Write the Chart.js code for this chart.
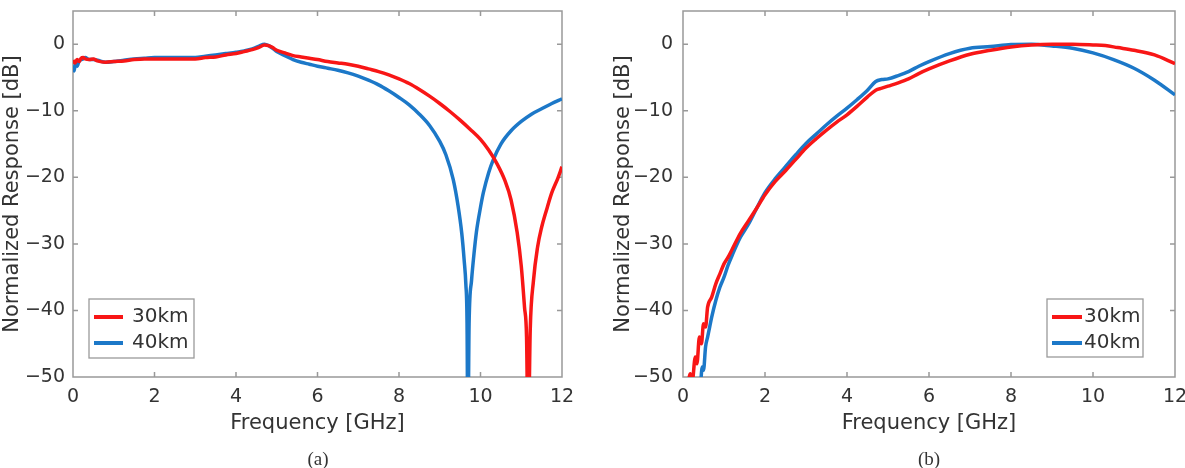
<!DOCTYPE html>
<html><head><meta charset="utf-8">
<script src="https://cdn.jsdelivr.net/npm/chart.js@4.4.1/dist/chart.umd.min.js"></script>
<style>
html,body{margin:0;padding:0;background:#fff;width:1185px;height:468px;overflow:hidden;position:relative}
.panel{position:absolute;top:0;height:468px}
#pa{left:0;width:600px}
#pb{left:590px;width:610px}
.cap{position:absolute;top:448px;font-family:"Liberation Serif","DejaVu Serif",serif;font-size:19px;color:#333;transform:translateX(-50%);line-height:22px}
</style></head><body>
<div class="panel" id="pa"><canvas id="ca" width="600" height="468"></canvas></div>
<div class="panel" id="pb"><canvas id="cb" width="610" height="468"></canvas></div>
<div class="cap" style="left:318px">(a)</div>
<div class="cap" style="left:929px">(b)</div>
<script>
// ---- data ----
const seriesNames = ['30km', '40km'];
const xTickValues = [0, 2, 4, 6, 8, 10, 12];
const yTickValues = [-50, -40, -30, -20, -10, 0];
const yTickLabels = ['\u221250', '\u221240', '\u221230', '\u221220', '\u221210', '0'];
const xTitle = 'Frequency [GHz]';
const yTitle = 'Normalized Response [dB]';

// panel (a)
const freqA30 = [0, 0.05, 0.1, 0.15, 0.2, 0.25, 0.3, 0.4, 0.5, 0.6, 0.8, 1.0, 1.25, 1.5, 1.75, 2.0, 2.25, 2.5, 2.75, 3.0, 3.25, 3.5, 3.75, 4.0, 4.2, 4.4, 4.55, 4.7, 4.8, 4.9, 5.0, 5.2, 5.4, 5.6, 5.8, 6.0, 6.25, 6.5, 6.75, 7.0, 7.25, 7.5, 7.75, 8.0, 8.25, 8.5, 8.75, 9.0, 9.25, 9.5, 9.75, 10.0, 10.2, 10.4, 10.6, 10.75, 10.9, 11.0, 11.08, 11.13, 11.17, 11.22, 11.3, 11.4, 11.5, 11.62, 11.75, 11.9, 12.0];
const respA30 = [-2.4, -2.8, -2.3, -2.6, -2.1, -2.0, -2.2, -2.3, -2.2, -2.5, -2.7, -2.6, -2.5, -2.3, -2.2, -2.2, -2.2, -2.2, -2.2, -2.2, -2.0, -1.9, -1.6, -1.4, -1.1, -0.8, -0.5, -0.1, -0.2, -0.5, -0.9, -1.3, -1.7, -1.9, -2.1, -2.3, -2.6, -2.8, -3.0, -3.3, -3.7, -4.1, -4.6, -5.2, -5.9, -6.8, -7.8, -8.9, -10.1, -11.4, -12.8, -14.3, -15.9, -17.9, -20.5, -23.4, -28.3, -33.3, -39.5, -44, -60, -43, -35.5, -30.5, -27.5, -24.9, -22.3, -20.1, -18.4];
const freqA40 = [0, 0.03, 0.06, 0.1, 0.15, 0.2, 0.25, 0.3, 0.4, 0.5, 0.6, 0.8, 1.0, 1.25, 1.5, 1.75, 2.0, 2.25, 2.5, 2.75, 3.0, 3.25, 3.5, 3.75, 4.0, 4.2, 4.4, 4.55, 4.7, 4.8, 4.9, 5.0, 5.2, 5.4, 5.6, 5.8, 6.0, 6.25, 6.5, 6.75, 7.0, 7.25, 7.5, 7.75, 8.0, 8.25, 8.5, 8.75, 9.0, 9.15, 9.33, 9.45, 9.54, 9.6, 9.64, 9.67, 9.69, 9.72, 9.78, 9.84, 9.9, 10.0, 10.07, 10.2, 10.31, 10.5, 10.75, 11.0, 11.25, 11.5, 11.75, 12.0];
const respA40 = [-3.2, -4.0, -2.8, -3.3, -2.5, -2.3, -2.2, -2.0, -2.3, -2.3, -2.4, -2.7, -2.6, -2.4, -2.2, -2.1, -2.0, -2.0, -2.0, -2.0, -2.0, -1.8, -1.6, -1.4, -1.2, -1.0, -0.7, -0.3, 0.0, -0.2, -0.6, -1.1, -1.7, -2.3, -2.7, -3.0, -3.3, -3.6, -3.9, -4.3, -4.8, -5.4, -6.1, -7.0, -8.0, -9.1, -10.5, -12.2, -14.6, -16.6, -20.3, -24.3, -28.4, -32.5, -36, -42, -60, -42, -35.5, -31.5, -28.2, -24.5, -22.3, -19.3, -17.4, -15.0, -13.0, -11.6, -10.5, -9.7, -8.9, -8.2];

// panel (b)
const freqB30 = [0.1, 0.18, 0.22, 0.3, 0.34, 0.4, 0.45, 0.5, 0.55, 0.6, 0.7, 0.8, 0.9, 1.0, 1.1, 1.2, 1.4, 1.6, 1.8, 2.0, 2.25, 2.5, 2.75, 3.0, 3.25, 3.5, 3.75, 4.0, 4.25, 4.5, 4.7, 4.85, 5.0, 5.25, 5.5, 5.75, 6.0, 6.5, 7.0, 7.5, 8.0, 8.5, 9.0, 9.5, 10.0, 10.3, 10.6, 11.0, 11.5, 12.0];
const respB30 = [-52, -49.5, -51, -47, -48, -44, -45, -42, -42.5, -39.5, -38, -36, -34.5, -33.0, -32, -30.8, -28.4, -26.5, -24.6, -22.6, -20.6, -19.0, -17.3, -15.6, -14.2, -12.9, -11.7, -10.6, -9.3, -7.9, -6.9, -6.6, -6.3, -5.8, -5.2, -4.4, -3.7, -2.5, -1.5, -0.9, -0.4, -0.1, 0, 0, -0.1, -0.2, -0.5, -0.9, -1.6, -2.9];
const freqB40 = [0.42, 0.47, 0.5, 0.55, 0.6, 0.65, 0.7, 0.8, 0.9, 1.0, 1.1, 1.2, 1.4, 1.6, 1.8, 2.0, 2.25, 2.5, 2.75, 3.0, 3.25, 3.5, 3.75, 4.0, 4.25, 4.5, 4.7, 4.85, 5.0, 5.25, 5.5, 5.75, 6.0, 6.5, 7.0, 7.5, 8.0, 8.5, 9.0, 9.5, 10.0, 10.5, 11.0, 11.5, 12.0];
const respB40 = [-52, -48.5, -49, -45.5, -44, -42.5, -41, -38.5, -36.5, -35, -33.2, -31.7, -29, -27, -24.6, -22.3, -20.2, -18.4, -16.6, -14.9, -13.5, -12.1, -10.8, -9.6, -8.3, -6.9, -5.6, -5.3, -5.2, -4.7, -4.1, -3.3, -2.6, -1.4, -0.6, -0.35, -0.05, 0, -0.25, -0.6, -1.3, -2.3, -3.6, -5.4, -7.6];

// ---- styling ----
const RED = 'rgb(248,22,22)';
const BLUE = 'rgb(28,120,200)';
const TXT = '#333';
const FONT = '"DejaVu Sans", sans-serif';

const pairs = (xs, ys) => xs.map((x, i) => ({x, y: ys[i]}));

const framePlugin = {
  id: 'frame',
  beforeDatasetsDraw(chart, args, o) {
    const {ctx, chartArea: a, scales: {x, y}} = chart;
    ctx.save();
    ctx.strokeStyle = o.color; ctx.lineWidth = o.width;
    ctx.strokeRect(a.left, a.top, a.right - a.left, a.bottom - a.top);
    ctx.beginPath();
    xTickValues.slice(1, -1).forEach(v => {
      const p = x.getPixelForValue(v);
      ctx.moveTo(p, a.bottom); ctx.lineTo(p, a.bottom - o.len);
      ctx.moveTo(p, a.top); ctx.lineTo(p, a.top + o.len);
    });
    yTickValues.slice(1).forEach(v => {
      const p = y.getPixelForValue(v);
      ctx.moveTo(a.left, p); ctx.lineTo(a.left + o.len, p);
      ctx.moveTo(a.right, p); ctx.lineTo(a.right - o.len, p);
    });
    ctx.stroke();
    ctx.restore();
  }
};

const boxLegend = {
  id: 'boxLegend',
  afterDatasetsDraw(chart, args, o) {
    const {ctx, chartArea: a} = chart;
    const x0 = a.left + o.dx, y0 = a.top + o.dy;
    ctx.save();
    ctx.fillStyle = '#fff'; ctx.fillRect(x0, y0, o.w, o.h);
    ctx.strokeStyle = '#9a9a9a'; ctx.lineWidth = 1.3; ctx.strokeRect(x0, y0, o.w, o.h);
    chart.data.datasets.forEach((ds, i) => {
      const yy = y0 + o.rowTop + i * o.rowGap;
      ctx.strokeStyle = ds.borderColor; ctx.lineWidth = 4;
      ctx.beginPath(); ctx.moveTo(x0 + o.lineX0, yy); ctx.lineTo(x0 + o.lineX1, yy); ctx.stroke();
      ctx.fillStyle = TXT; ctx.font = '20px ' + FONT; ctx.textBaseline = 'middle'; ctx.textAlign = 'left';
      ctx.fillText(ds.label, x0 + o.textX, yy);
    });
    ctx.restore();
  }
};

function makeChart(id, d30, d40, cfg) {
  return new Chart(document.getElementById(id), {
    type: 'line',
    data: {
      datasets: [
        {label: seriesNames[0], data: d30, borderColor: RED, backgroundColor: RED, borderWidth: 3.5, pointRadius: 0, cubicInterpolationMode: 'monotone'},
        {label: seriesNames[1], data: d40, borderColor: BLUE, backgroundColor: BLUE, borderWidth: 3.5, pointRadius: 0, cubicInterpolationMode: 'monotone'}
      ]
    },
    options: {
      responsive: false,
      animation: false,
      layout: {padding: {top: 11, left: 0, right: cfg.padRight, bottom: 0}},
      plugins: {
        legend: {display: false},
        tooltip: {enabled: false},
        frame: {color: '#999', width: 1.5, len: 5},
        boxLegend: cfg.legend
      },
      scales: {
        x: {
          type: 'linear', min: 0, max: 12,
          grid: {display: false, drawTicks: false},
          border: {display: false},
          afterBuildTicks: s => { s.ticks = xTickValues.map(v => ({value: v})); },
          afterFit: s => { s.height = 91; s.paddingLeft = 0; s.paddingRight = 0; },
          ticks: {padding: 9, color: TXT, font: {family: FONT, size: 19}, maxRotation: 0, autoSkip: false,
                  callback: v => String(v)},
          title: {display: true, text: xTitle, color: TXT, font: {family: FONT, size: 21}, padding: {top: 0, bottom: 32}}
        },
        y: {
          type: 'linear', min: -50, max: 5,
          grid: {display: false, drawTicks: false},
          border: {display: false},
          afterBuildTicks: s => { s.ticks = yTickValues.map(v => ({value: v})); },
          afterFit: s => { s.width = cfg.yWidth; s.paddingTop = 0; s.paddingBottom = 0; },
          ticks: {padding: cfg.yPad, color: TXT, font: {family: FONT, size: 19},
                  callback: v => yTickLabels[yTickValues.indexOf(v)]},
          title: {display: true, text: yTitle, color: TXT, font: {family: FONT, size: 21}, padding: {top: cfg.yTitlePad, bottom: 0}}
        }
      }
    },
    plugins: [framePlugin, boxLegend]
  });
}

makeChart('ca', pairs(freqA30, respA30), pairs(freqA40, respA40), {
  padRight: 38, yWidth: 73, yPad: 8, yTitlePad: 0,
  legend: {dx: 16, dy: 288, w: 105, h: 59, lineX0: 5, lineX1: 34, textX: 43, rowTop: 18, rowGap: 26}
});
makeChart('cb', pairs(freqB30, respB30), pairs(freqB40, respB40), {
  padRight: 25, yWidth: 93, yPad: 10, yTitlePad: 21,
  legend: {dx: 364, dy: 288, w: 96, h: 58, lineX0: 5, lineX1: 35, textX: 37, rowTop: 18, rowGap: 26}
});
</script>
</body></html>
